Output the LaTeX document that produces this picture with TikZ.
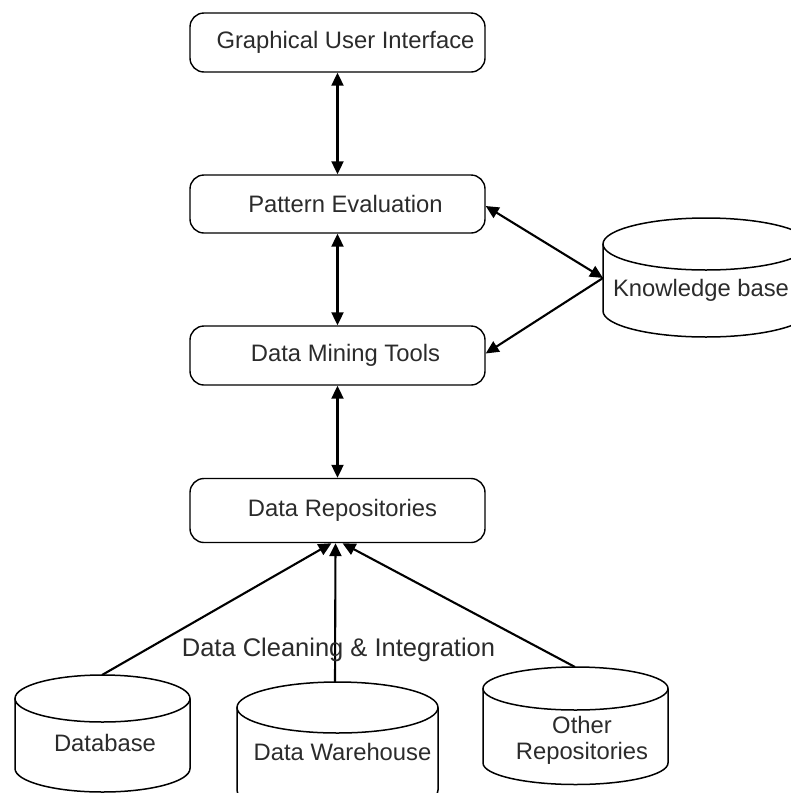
\documentclass[tikz,border=0pt]{standalone}
\usepackage{fontspec}
\setmainfont{Liberation Sans}
\usetikzlibrary{arrows.meta}
\definecolor{txt}{HTML}{2B2B2B}
\begin{document}
\begin{tikzpicture}[x=1pt,y=-1pt,
  lbl/.style={text=txt, font=\fontsize{23.8}{26}\selectfont, inner sep=0pt},
  box/.style={draw, rounded corners=14pt, minimum width=295pt, line width=1.4pt, inner sep=0pt},
  link/.style={line width=2.1pt, {Triangle[length=13pt,width=12pt]}-{Triangle[length=13pt,width=12pt]}},
  feed/.style={line width=2.1pt, -{Triangle[length=13pt,width=12pt]}},
  cyl/.style={line width=1.5pt}]
\useasboundingbox (0,0) rectangle (791,793);
\clip (0,0) rectangle (791,793);

% processing layers
\node[box, minimum height=59pt, label={[lbl,xshift=8pt]center:Graphical User Interface}] (gui) at (337.5,42.5) {};
\node[box, minimum height=58pt, label={[lbl,xshift=8pt]center:Pattern Evaluation}] (pe) at (337.5,204) {};
\node[box, minimum height=59pt, label={[lbl,xshift=8pt]center:Data Mining Tools}] (dmt) at (337.5,355.5) {};
\node[box, minimum height=64pt, label={[lbl,xshift=5pt]center:Data Repositories}] (dr) at (337.5,510.5) {};

% knowledge base drum
\draw[cyl] (603,244) -- (603,311) arc[start angle=180, end angle=360, x radius=103pt, y radius=26pt] -- (809,244);
\draw[cyl] (706,244) ellipse[x radius=103pt, y radius=26pt];
\node[lbl] (kb) at (701,290) {Knowledge base};
\coordinate (kbl) at (603,278);

% source drums
\draw[cyl] (15,698.5) -- (15,768.5) arc[start angle=180, end angle=360, x radius=87.5pt, y radius=23.5pt] -- (190,698.5);
\draw[cyl] (102.5,698.5) ellipse[x radius=87.5pt, y radius=23.5pt];
\node[lbl] (db) at (105,743) {Database};
\coordinate (dbtop) at (102,675);

\draw[cyl] (237,707.5) -- (237,790) arc[start angle=180, end angle=360, x radius=100.5pt, y radius=25.5pt] -- (438,707.5);
\draw[cyl] (337.5,707.5) ellipse[x radius=100.5pt, y radius=25.5pt];
\node[lbl] (dw) at (342.5,752) {Data Warehouse};
\coordinate (dwtop) at (335,682);

\draw[cyl] (483,688.5) -- (483,763) arc[start angle=180, end angle=360, x radius=92.5pt, y radius=21.5pt] -- (668,688.5);
\draw[cyl] (575.5,688.5) ellipse[x radius=92.5pt, y radius=21.5pt];
\node[lbl, align=center] (or) at (582,740) {Other\\Repositories};
\coordinate (ortop) at (575,667);

% connectors
\draw[link] (gui.south) -- (pe.north);
\draw[link] (pe.south) -- (dmt.north);
\draw[link] (dmt.south) -- (dr.north);
\draw[link] (kbl) -- ([yshift=-2pt]pe.east);
\draw[feed] (kbl) -- ([yshift=2pt]dmt.east);

\draw[feed] (dbtop) -- ([xshift=-6pt]dr.south);
\draw[feed] (dwtop) -- ([xshift=-2pt]dr.south);
\draw[feed] (ortop) -- ([xshift=5pt]dr.south);

\node[lbl, font=\fontsize{25.5}{28}\selectfont] (clean) at (338.5,650) {Data Cleaning \& Integration};
\end{tikzpicture}
\end{document}
